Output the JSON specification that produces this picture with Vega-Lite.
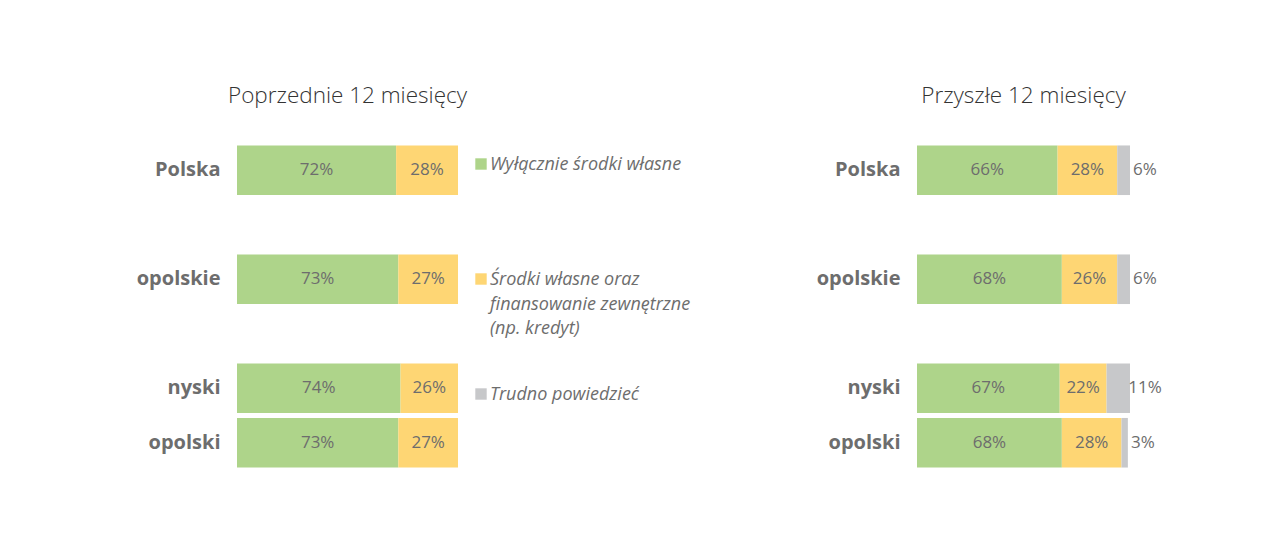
{
  "$schema": "https://vega.github.io/schema/vega-lite/v6.json",
  "background": "white",
  "padding": {"left": 37, "top": 84, "right": 5, "bottom": 5},
  "bounds": "flush",
  "spacing": 459,
  "resolve": {"scale": {"color": "independent"}},
  "config": {
    "view": {"stroke": null},
    "font": "Open Sans",
    "title": {"font": "Open Sans", "fontSize": 22.5, "fontWeight": 300, "color": "#333333", "anchor": "middle", "frame": "group", "offset": 36, "baseline": "alphabetic"},
    "axisY": {"domain": false, "ticks": false, "labelFont": "Open Sans", "labelFontSize": 20, "labelFontWeight": "bold", "labelColor": "#6d6d6d", "labelPadding": 17, "minExtent": 200, "maxExtent": 200, "title": null}
  },
  "datasets": {
    "prev": [
      {"region": "Polska", "cat": "Wyłącznie środki własne", "k": 1, "v": 0.72},
      {"region": "Polska", "cat": "Środki własne oraz finansowanie zewnętrzne (np. kredyt)", "k": 2, "v": 0.28},
      {"region": "opolskie", "cat": "Wyłącznie środki własne", "k": 1, "v": 0.73},
      {"region": "opolskie", "cat": "Środki własne oraz finansowanie zewnętrzne (np. kredyt)", "k": 2, "v": 0.27},
      {"region": "nyski", "cat": "Wyłącznie środki własne", "k": 1, "v": 0.74},
      {"region": "nyski", "cat": "Środki własne oraz finansowanie zewnętrzne (np. kredyt)", "k": 2, "v": 0.26},
      {"region": "opolski", "cat": "Wyłącznie środki własne", "k": 1, "v": 0.73},
      {"region": "opolski", "cat": "Środki własne oraz finansowanie zewnętrzne (np. kredyt)", "k": 2, "v": 0.27}
    ],
    "next": [
      {"region": "Polska", "cat": "Wyłącznie środki własne", "k": 1, "v": 0.66},
      {"region": "Polska", "cat": "Środki własne oraz finansowanie zewnętrzne (np. kredyt)", "k": 2, "v": 0.28},
      {"region": "Polska", "cat": "Trudno powiedzieć", "k": 3, "v": 0.06},
      {"region": "opolskie", "cat": "Wyłącznie środki własne", "k": 1, "v": 0.68},
      {"region": "opolskie", "cat": "Środki własne oraz finansowanie zewnętrzne (np. kredyt)", "k": 2, "v": 0.26},
      {"region": "opolskie", "cat": "Trudno powiedzieć", "k": 3, "v": 0.06},
      {"region": "nyski", "cat": "Wyłącznie środki własne", "k": 1, "v": 0.67},
      {"region": "nyski", "cat": "Środki własne oraz finansowanie zewnętrzne (np. kredyt)", "k": 2, "v": 0.22},
      {"region": "nyski", "cat": "Trudno powiedzieć", "k": 3, "v": 0.11},
      {"region": "opolski", "cat": "Wyłącznie środki własne", "k": 1, "v": 0.68},
      {"region": "opolski", "cat": "Środki własne oraz finansowanie zewnętrzne (np. kredyt)", "k": 2, "v": 0.28},
      {"region": "opolski", "cat": "Trudno powiedzieć", "k": 3, "v": 0.03}
    ]
  },
  "hconcat": [
    {
      "data": {"name": "prev"},
      "width": 221,
      "height": 327,
      "title": {"text": "Poprzednie 12 miesięcy"},
      "encoding": {
        "y": {"field": "region", "type": "nominal", "scale": {"domain": ["Polska", " ", "opolskie", "  ", "nyski", "opolski"], "paddingInner": 0.09, "paddingOuter": 0.045}, "title": null}
      },
      "layer": [
        {
          "mark": {"type": "bar"},
          "encoding": {
            "x": {"field": "v", "type": "quantitative", "stack": "zero", "scale": {"domain": [0, 1]}, "axis": null},
            "color": {
              "field": "cat", "type": "nominal",
              "scale": {"domain": ["Wyłącznie środki własne", "Środki własne oraz finansowanie zewnętrzne (np. kredyt)", "Trudno powiedzieć"], "range": ["#AED48A", "#FED674", "#C7C8CA"]},
              "legend": {
                "title": null, "orient": "right", "offset": 2, "padding": 12,
                "symbolType": "square", "symbolSize": 130, "symbolStrokeWidth": 0,
                "labelFont": "Open Sans", "labelFontSize": 18, "labelFontStyle": "italic", "labelColor": "#6d6d6d",
                "labelOffset": 0, "labelLimit": 320, "labelBaseline": "alphabetic", "rowPadding": 47,
                "labelExpr": "datum.label === 'Środki własne oraz finansowanie zewnętrzne (np. kredyt)' ? ['Środki własne oraz', 'finansowanie zewnętrzne', '(np. kredyt)'] : [datum.label, '', '']",
                "encode": {"labels": {"update": {"dy": {"value": 6}, "lineHeight": {"value": 24.5}}}}
              }
            },
            "order": {"field": "k"}
          }
        },
        {
          "mark": {"type": "text", "fontSize": 17, "color": "#6d6d6d", "font": "Open Sans"},
          "encoding": {
            "x": {"field": "v", "type": "quantitative", "stack": "zero", "bandPosition": 0.5},
            "detail": {"field": "cat"},
            "order": {"field": "k"},
            "text": {"field": "v", "type": "quantitative", "format": ".0%"}
          }
        }
      ]
    },
    {
      "data": {"name": "next"},
      "width": 213,
      "height": 327,
      "title": {"text": "Przyszłe 12 miesięcy"},
      "encoding": {
        "y": {"field": "region", "type": "nominal", "scale": {"domain": ["Polska", " ", "opolskie", "  ", "nyski", "opolski"], "paddingInner": 0.09, "paddingOuter": 0.045}, "title": null}
      },
      "layer": [
        {
          "mark": {"type": "bar"},
          "encoding": {
            "x": {"field": "v", "type": "quantitative", "stack": "zero", "scale": {"domain": [0, 1]}, "axis": null},
            "color": {
              "field": "cat", "type": "nominal",
              "scale": {"domain": ["Wyłącznie środki własne", "Środki własne oraz finansowanie zewnętrzne (np. kredyt)", "Trudno powiedzieć"], "range": ["#AED48A", "#FED674", "#C7C8CA"]},
              "legend": null
            },
            "order": {"field": "k"}
          }
        },
        {
          "mark": {"type": "text", "fontSize": 17, "color": "#6d6d6d", "font": "Open Sans"},
          "encoding": {
            "x": {"field": "v", "type": "quantitative", "stack": "zero", "bandPosition": 0.5},
            "detail": {"field": "cat"},
            "order": {"field": "k"},
            "opacity": {"condition": {"test": "datum.cat === 'Trudno powiedzieć'", "value": 0}, "value": 1},
            "text": {"field": "v", "type": "quantitative", "format": ".0%"}
          }
        },
        {
          "mark": {"type": "text", "fontSize": 17, "color": "#6d6d6d", "font": "Open Sans", "align": "center", "dx": 15},
          "encoding": {
            "x": {"field": "v", "type": "quantitative", "stack": "zero"},
            "detail": {"field": "cat"},
            "order": {"field": "k"},
            "opacity": {"condition": {"test": "datum.cat === 'Trudno powiedzieć'", "value": 1}, "value": 0},
            "text": {"field": "v", "type": "quantitative", "format": ".0%"}
          }
        }
      ]
    }
  ]
}
